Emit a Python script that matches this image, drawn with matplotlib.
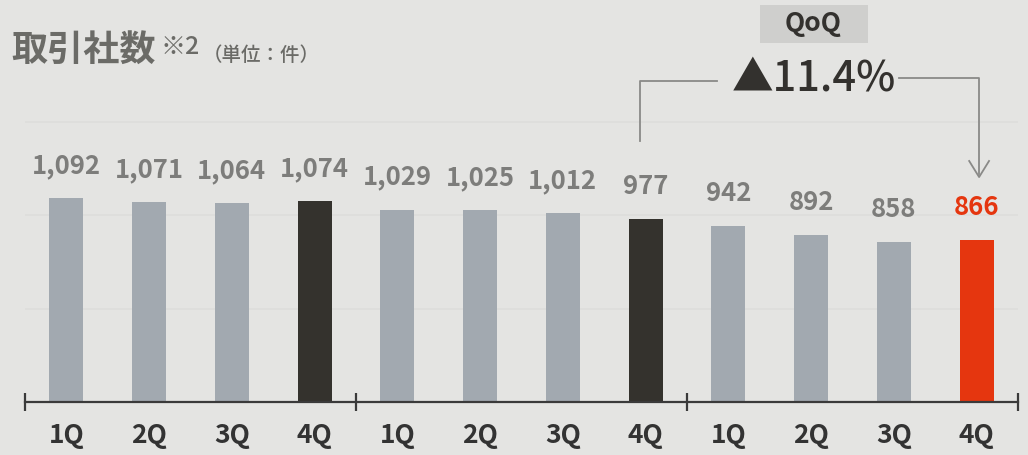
import matplotlib.pyplot as plt
from matplotlib.patches import Rectangle

# data
quarters = ["1Q", "2Q", "3Q", "4Q"] * 3
counts = [1092, 1071, 1064, 1074, 1029, 1025, 1012, 977, 942, 892, 858, 866]
bar_colors = ["#a2a9b0"] * 3 + ["#34322d"] + ["#a2a9b0"] * 3 + ["#34322d"] + ["#a2a9b0"] * 3 + ["#e5360f"]
label_colors = ["#7d7d7b"] * 11 + ["#e5360f"]
qoq_text = "▲11.4%"

plt.rcParams["font.family"] = ["Noto Sans CJK JP", "DejaVu Sans"]
bg = "#e4e4e2"

fig = plt.figure(figsize=(10.28, 4.56), dpi=100, facecolor=bg)
W, H = 1028, 456
ax = fig.add_axes([25 / W, 53 / H, 993 / W, 403 / H])
ax.set_facecolor(bg)

x = list(range(len(counts)))
ax.bar(x, counts, width=0.41, color=bar_colors, zorder=2)
ax.set_xlim(-0.5, 11.5)
ax.set_ylim(0, 2157)

# faint grid lines
for gy in [500, 1000, 1500]:
    ax.axhline(gy, color="#dddddb", lw=1.2, zorder=1)

# value labels
for xi, v, c in zip(x, counts, label_colors):
    ax.annotate(f"{v:,}", (xi, v), xytext=(0, 20), textcoords="offset pixels",
                ha="center", va="bottom", fontsize=18.5, fontweight="bold", color=c)

for s in ["top", "left", "right"]:
    ax.spines[s].set_visible(False)
ax.spines["bottom"].set_color("#3a3a3a")
ax.spines["bottom"].set_linewidth(1.6)
ax.set_yticks([])
ax.set_xticks(x)
ax.set_xticklabels(quarters, fontsize=19, fontweight="bold", color="#333333")
ax.tick_params(axis="x", which="major", length=0, pad=14)
ax.set_xticks([-0.5, 3.5, 7.5, 11.5], minor=True)
ax.tick_params(axis="x", which="minor", length=13, width=1.6, direction="inout", color="#3a3a3a")

# QoQ box and connectors
ax.add_patch(Rectangle((8.38, 1922), 1.31, 203, facecolor="#cfcfcd", edgecolor="none", clip_on=False))
ax.text(9.03, 2030, "QoQ", ha="center", va="center", fontsize=19, fontweight="bold", color="#33312e")
ax.text(9.03, 1740, qoq_text, ha="center", va="center", fontsize=30, fontweight="medium", color="#33312e")
ax.plot([6.93, 6.93, 7.86], [1397, 1718, 1718], color="#8a8a88", lw=1.3, clip_on=False)
ax.plot([10.06, 11.03, 11.03], [1734, 1734, 1220], color="#8a8a88", lw=1.3, clip_on=False)
ax.plot([10.91, 11.03, 11.15], [1290, 1204, 1290], color="#8a8a88", lw=1.3, clip_on=False)

# title
fig.text(11 / W, 1 - 50 / H, "取引社数", ha="left", va="center", fontsize=26, fontweight="bold", color="#6b6b67")
fig.text(160 / W, 1 - 47 / H, "※2", ha="left", va="center", fontsize=18, fontweight="medium", color="#6b6b67")
fig.text(203 / W, 1 - 56 / H, "（単位：件）", ha="left", va="center", fontsize=14, fontweight="medium", color="#6b6b67")

plt.savefig("out.png", dpi=100, facecolor=bg)
plt.close()
